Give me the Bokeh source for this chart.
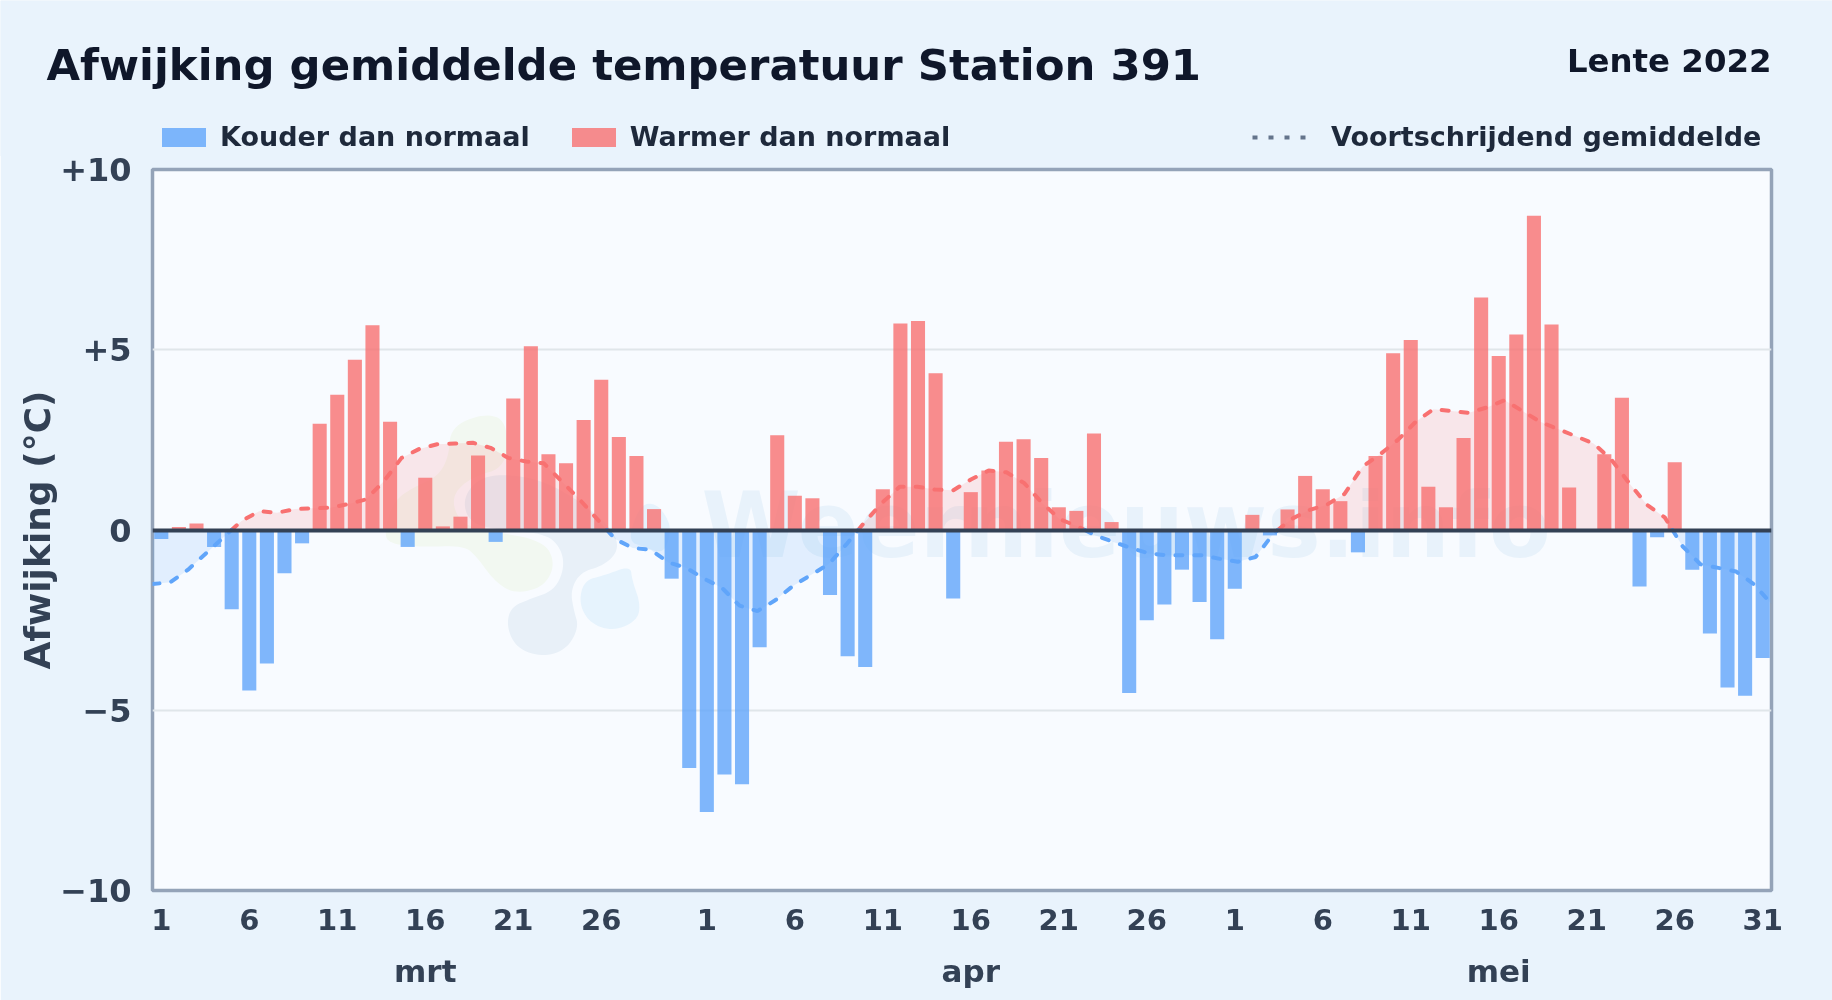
import numpy as np
from bokeh.plotting import figure
from bokeh.embed import file_html
from bokeh.resources import INLINE
from bokeh.core.properties import value
from bokeh.models import (Range1d, FixedTicker, LinearAxis, Label, Legend, LegendItem)

title_text = "Afwijking gemiddelde temperatuur Station 391"
season_text = "Lente 2022"
watermark_text = "Weernieuws.info"
y_axis_title = "Afwijking (°C)"

deviation = [
    # maart
    -0.25, 0.08, 0.18, -0.47, -2.2, -4.45, -3.7, -1.2, -0.37, 2.95, 3.75, 4.72, 5.68, 3.0, -0.47, 1.45,
    0.1, 0.37, 2.07, -0.33, 3.65, 5.1, 2.1, 1.85, 3.05, 4.17, 2.58, 2.05, 0.58, -1.35, -6.6,
    # april
    -7.82, -6.78, -7.05, -3.25, 2.63, 0.95, 0.88, -1.8, -3.5, -3.8, 1.13, 5.73, 5.8, 4.35, -1.9,
    1.05, 1.65, 2.45, 2.52, 2.0, 0.63, 0.53, 2.68, 0.22, -4.52, -2.5, -2.07, -1.1, -2.0, -3.03,
    # mei
    -1.63, 0.42, -0.15, 0.57, 1.5, 1.13, 0.8, -0.62, 2.05, 4.9, 5.27, 1.2, 0.63, 2.55, 6.45, 4.83,
    5.42, 8.72, 5.7, 1.18, 0.0, 2.1, 3.67, -1.57, -0.2, 1.88, -1.1, -2.87, -4.37, -4.6, -3.55,
]
rolling_mean = [
    -1.5, -1.45, -1.1, -0.65, -0.2, 0.25, 0.52, 0.48, 0.58, 0.6, 0.62, 0.72, 0.85, 1.35, 2.0, 2.25,
    2.38, 2.4, 2.42, 2.28, 2.0, 1.9, 1.85, 1.35, 0.85, 0.3, -0.25, -0.5, -0.55, -0.9, -1.05,
    -1.35, -1.6, -2.1, -2.25, -1.95, -1.55, -1.25, -0.95, -0.4, 0.2, 0.75, 1.2, 1.2, 1.12, 1.1,
    1.4, 1.65, 1.6, 1.3, 0.75, 0.3, 0.1, -0.15, -0.33, -0.5, -0.65, -0.7, -0.7, -0.7, -0.8,
    -0.88, -0.75, -0.1, 0.3, 0.55, 0.7, 1.0, 1.75, 2.1, 2.5, 3.0, 3.35, 3.3, 3.25, 3.4, 3.6,
    3.3, 3.0, 2.8, 2.6, 2.4, 1.95, 1.3, 0.7, 0.35, -0.45, -0.95, -1.05, -1.15, -1.5, -2.05,
]
month_days = [31, 30, 31]
month_tick_days = [[1, 6, 11, 16, 21, 26], [1, 6, 11, 16, 21, 26], [1, 6, 11, 16, 21, 26, 31]]
month_names = ["mrt", "apr", "mei"]
month_label_days = [15, 46, 76]
y_ticks = [-10, -5, 0, 5, 10]
y_tick_labels = ["−10", "−5", "0", "+5", "+10"]
legend_labels = ["Kouder dan normaal", "Warmer dan normaal", "Voortschrijdend gemiddelde"]

FONT = "DejaVu Sans"
BG = "#E9F3FC"
COLD = "#60A5FA"
WARM = "#F87171"
KEY = "#64748B"
W, H = 1832, 1000
LEFT, RIGHT, TOP, BOTTOM = 152, 61, 169, 110
HEADER_H = 156

p = figure(width=W, height=H, output_backend="svg", toolbar_location=None,
           x_range=Range1d(0, len(deviation)), y_range=Range1d(-10, 10),
           x_axis_location=None, y_axis_location=None,
           min_border_left=LEFT, min_border_right=RIGHT, min_border_top=TOP, min_border_bottom=BOTTOM)
p.styles = {"position": "fixed", "left": "0", "top": "0"}
p.background_fill_color = "#F8FBFF"
p.border_fill_color = BG
p.outline_line_color = "#94A3B8"
p.outline_line_width = 3.5
frame_w = W - LEFT - RIGHT
frame_h = H - TOP - BOTTOM


def px_x(v):
    return (v - LEFT) / frame_w * len(deviation)


def px_y(v):
    return 10 - (v - TOP) / frame_h * 20


def chaikin(pts, n=3):
    a = np.array(pts, float)
    for _ in range(n):
        b = np.roll(a, -1, axis=0)
        a = np.column_stack([0.75 * a + 0.25 * b, 0.25 * a + 0.75 * b]).reshape(-1, 2)
    return a


# faint logo behind the chart (outlines in zoomed reference pixels)
blobs = [
    ("#F2F8F1", [(240, 110), (340, 68), (410, 90), (410, 230), (300, 260), (240, 320), (270, 400), (350, 420), (520, 450),
                 (555, 520), (520, 590), (430, 610), (370, 570), (320, 500), (280, 465), (150, 470), (60, 460), (40, 430),
                 (70, 330), (130, 290), (200, 260), (235, 200)]),
    ("#E8F0F8", [(275, 330), (320, 265), (400, 250), (520, 270), (640, 340), (730, 420), (745, 480), (700, 525), (630, 545),
                 (600, 600), (610, 660), (625, 710), (590, 775), (520, 800), (440, 775), (408, 710), (420, 650), (480, 625),
                 (550, 600), (580, 540), (575, 480), (530, 430), (400, 420), (300, 400)]),
    ("#E6F3FD", [(640, 570), (700, 555), (780, 525), (785, 570), (810, 640), (800, 690), (730, 722), (660, 700), (625, 640)]),
    ("#E6F3FD", [(770, 450), (810, 340), (860, 340), (895, 390), (900, 430), (880, 490), (820, 470)]),
]
for colour, outline in blobs:
    s = chaikin(outline)
    p.patch(px_x(370 + s[:, 0] / 3), px_y(390 + s[:, 1] / 3), fill_color=colour, line_color=None, level="underlay")

p.text([px_x(701)], [px_y(525)], text=[watermark_text], text_font=value(FONT), text_font_size="90px",
       text_font_style="bold", text_color="#E8F2FB", text_baseline="alphabetic", level="underlay")

# axes
ticks_x = []
labels_x = {}
offset = 0
for n, days in zip(month_days, month_tick_days):
    for d in days:
        ticks_x.append(offset + d - 0.5)
        labels_x[offset + d - 0.5] = str(d)
    offset += n

xaxis = LinearAxis(ticker=FixedTicker(ticks=ticks_x), major_label_overrides=labels_x)
month_ticks = [d + 0.5 for d in month_label_days]
month_axis = LinearAxis(ticker=FixedTicker(ticks=month_ticks),
                        major_label_overrides=dict(zip(month_ticks, month_names)))
for ax, standoff, size in ((xaxis, 12, "29px"), (month_axis, 14, "31px")):
    ax.axis_line_color = None
    ax.major_tick_line_color = None
    ax.minor_tick_line_color = None
    ax.major_label_standoff = standoff
    ax.major_label_text_font = FONT
    ax.major_label_text_font_style = "bold"
    ax.major_label_text_font_size = size
    ax.major_label_text_color = "#334155"
    ax.major_label_orientation = "horizontal"
p.add_layout(xaxis, "below")
p.add_layout(month_axis, "below")

yaxis = LinearAxis(ticker=FixedTicker(ticks=y_ticks), major_label_overrides=dict(zip(y_ticks, y_tick_labels)))
yaxis.axis_line_color = None
yaxis.major_tick_line_color = None
yaxis.minor_tick_line_color = None
yaxis.major_label_standoff = 15
yaxis.major_label_text_font = FONT
yaxis.major_label_text_font_style = "bold"
yaxis.major_label_text_font_size = "32px"
yaxis.major_label_text_color = "#334155"
yaxis.axis_label = y_axis_title
yaxis.axis_label_text_font = FONT
yaxis.axis_label_text_font_style = "bold"
yaxis.axis_label_text_font_size = "36px"
yaxis.axis_label_text_color = "#334155"
yaxis.axis_label_standoff = -1
p.add_layout(yaxis, "left")

p.xgrid.visible = False
p.ygrid.visible = False
grid_ticks = [t for t in y_ticks if t not in (-10, 0, 10)]
p.hspan(y=grid_ticks, line_color="#E0E6EA", line_width=2, level="underlay")

# rolling mean, split where it crosses zero
xs = [i * len(deviation) / (len(rolling_mean) - 1) for i in range(len(rolling_mean))]
lx, ly = [], []
for i, (a, b) in enumerate(zip(rolling_mean[:-1], rolling_mean[1:])):
    lx.append(xs[i])
    ly.append(a)
    if a * b < 0:
        lx.append(xs[i] + (xs[i + 1] - xs[i]) * a / (a - b))
        ly.append(0.0)
lx.append(xs[-1])
ly.append(rolling_mean[-1])
lx, ly = np.array(lx), np.array(ly)

p.varea(lx, 0, np.maximum(ly, 0), fill_color=WARM, fill_alpha=0.15)
p.varea(lx, 0, np.minimum(ly, 0), fill_color=COLD, fill_alpha=0.15)

# bars
dev = np.array(deviation)
idx = np.arange(len(dev)) + 0.5
p.vbar(idx[dev < 0], width=0.8, bottom=0, top=dev[dev < 0], fill_color=COLD, fill_alpha=0.8, line_color=None)
p.vbar(idx[dev >= 0], width=0.8, bottom=0, top=dev[dev >= 0], fill_color=WARM, fill_alpha=0.8, line_color=None)

p.line(lx, np.where(ly >= 0, ly, np.nan), line_color=WARM, line_width=4, line_dash="7 12", line_cap="round")
p.line(lx, np.where(ly <= 0, ly, np.nan), line_color=COLD, line_width=4, line_dash="7 12", line_cap="round")
p.hspan(y=[0], line_color="#334155", line_width=4)

# header strip: its own figure, so the title and legends sit inside a frame and are not clipped
header = figure(width=W, height=HEADER_H, output_backend="svg", toolbar_location=None, title=None,
                x_range=Range1d(0, W), y_range=Range1d(0, HEADER_H),
                x_axis_location=None, y_axis_location=None,
                min_border_left=0, min_border_right=0, min_border_top=0, min_border_bottom=0)
header.styles = {"position": "fixed", "left": "0", "top": "0", "z-index": "5"}
header.background_fill_color = BG
header.border_fill_color = BG
header.outline_line_color = None
header.xgrid.visible = False
header.ygrid.visible = False

# legend keys: renderers lying outside the strip's range, only their styles are shown
cold_key = header.vbar(x=[-100], width=1, bottom=[-100], top=[-90], fill_color=COLD, fill_alpha=0.8, line_color=None)
warm_key = header.vbar(x=[-100], width=1, bottom=[-100], top=[-90], fill_color=WARM, fill_alpha=0.8, line_color=None)
mean_key = header.line([-100, -90], [-100, -100], line_color=KEY, line_width=4, line_dash="5 11")


def make_legend(items, x_px, glyph_w, standoff, spacing):
    leg = Legend(items=items, orientation="horizontal", location=(x_px, 4),
                 background_fill_alpha=0, border_line_color=None, padding=0, margin=0,
                 glyph_width=glyph_w, glyph_height=24, label_standoff=standoff, spacing=spacing,
                 label_text_font=FONT, label_text_font_style="bold", label_text_font_size="27px",
                 label_text_color="#1E293B")
    header.add_layout(leg, "center")


make_legend([LegendItem(label=legend_labels[0], renderers=[cold_key]),
             LegendItem(label=legend_labels[1], renderers=[warm_key])], 156, 55, 9, 36)
make_legend([LegendItem(label=legend_labels[2], renderers=[mean_key])], 1252, 54, 25, 0)

header.add_layout(Label(x=46, y=HEADER_H - 64, x_units="screen", y_units="screen", text=title_text, text_font=FONT,
                        text_font_style="bold", text_font_size="43.4px", text_color="#0F172A", text_baseline="middle"))
header.add_layout(Label(x=1771, y=HEADER_H - 60, x_units="screen", y_units="screen", text=season_text, text_font=FONT,
                        text_font_style="bold", text_font_size="32.4px", text_color="#0F172A", text_baseline="middle",
                        text_align="right"))

open("out.html", "w").write(file_html([p, header], INLINE))
